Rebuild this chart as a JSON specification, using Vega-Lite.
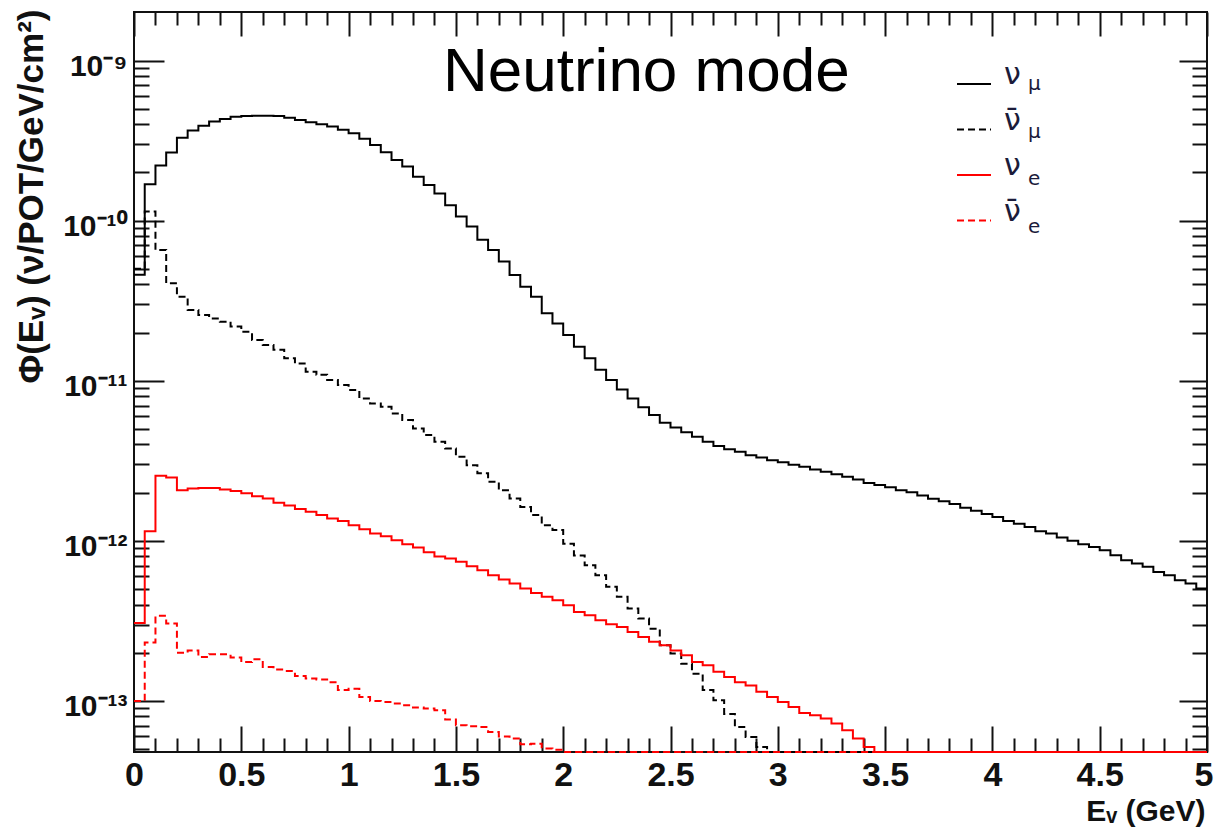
{
  "$schema": "https://vega.github.io/schema/vega-lite/v6.json",
  "autosize": {"type": "none"},
  "padding": {"left": 134, "top": 12, "right": 7, "bottom": 76},
  "width": 1073,
  "height": 740,
  "background": "white",
  "config": {
    "view": {"stroke": "#111", "strokeWidth": 2},
    "axis": {"domain": false, "grid": false, "tickColor": "#111", "tickWidth": 2, "labelOverlap": false, "labelBound": false, "labelFlush": false, "zindex": 1}
  },
  "title": {"text": "Neutrino mode", "anchor": "start", "frame": "group", "orient": "top", "offset": 0, "dx": 309, "dy": 144, "baseline": "alphabetic", "font": "Liberation Sans", "fontSize": 62, "fontWeight": "normal", "color": "#000"},
  "data": {"values": [
    {"series":"numu","E":0,"flux":4.6e-11},{"series":"numu","E":0.05,"flux":1.69e-10},{"series":"numu","E":0.1,"flux":2.21e-10},{"series":"numu","E":0.15,"flux":2.66e-10},{"series":"numu","E":0.2,"flux":3.3e-10},{"series":"numu","E":0.25,"flux":3.65e-10},{"series":"numu","E":0.3,"flux":3.91e-10},{"series":"numu","E":0.35,"flux":4.16e-10},{"series":"numu","E":0.4,"flux":4.31e-10},{"series":"numu","E":0.45,"flux":4.45e-10},
    {"series":"numu","E":0.5,"flux":4.5e-10},{"series":"numu","E":0.55,"flux":4.52e-10},{"series":"numu","E":0.6,"flux":4.52e-10},{"series":"numu","E":0.65,"flux":4.5e-10},{"series":"numu","E":0.7,"flux":4.4e-10},{"series":"numu","E":0.75,"flux":4.26e-10},{"series":"numu","E":0.8,"flux":4.12e-10},{"series":"numu","E":0.85,"flux":4.0e-10},{"series":"numu","E":0.9,"flux":3.87e-10},{"series":"numu","E":0.95,"flux":3.69e-10},
    {"series":"numu","E":1.0,"flux":3.51e-10},{"series":"numu","E":1.05,"flux":3.25e-10},{"series":"numu","E":1.1,"flux":2.97e-10},{"series":"numu","E":1.15,"flux":2.67e-10},{"series":"numu","E":1.2,"flux":2.39e-10},{"series":"numu","E":1.25,"flux":2.18e-10},{"series":"numu","E":1.3,"flux":1.88e-10},{"series":"numu","E":1.35,"flux":1.67e-10},{"series":"numu","E":1.4,"flux":1.48e-10},{"series":"numu","E":1.45,"flux":1.25e-10},
    {"series":"numu","E":1.5,"flux":1.06e-10},{"series":"numu","E":1.55,"flux":9.2e-11},{"series":"numu","E":1.6,"flux":7.6e-11},{"series":"numu","E":1.65,"flux":6.56e-11},{"series":"numu","E":1.7,"flux":5.55e-11},{"series":"numu","E":1.75,"flux":4.58e-11},{"series":"numu","E":1.8,"flux":3.87e-11},{"series":"numu","E":1.85,"flux":3.35e-11},{"series":"numu","E":1.9,"flux":2.64e-11},{"series":"numu","E":1.95,"flux":2.28e-11},
    {"series":"numu","E":2.0,"flux":1.93e-11},{"series":"numu","E":2.05,"flux":1.63e-11},{"series":"numu","E":2.1,"flux":1.38e-11},{"series":"numu","E":2.15,"flux":1.17e-11},{"series":"numu","E":2.2,"flux":1.01e-11},{"series":"numu","E":2.25,"flux":8.83e-12},{"series":"numu","E":2.3,"flux":7.76e-12},{"series":"numu","E":2.35,"flux":6.82e-12},{"series":"numu","E":2.4,"flux":6.1e-12},{"series":"numu","E":2.45,"flux":5.46e-12},
    {"series":"numu","E":2.5,"flux":5.11e-12},{"series":"numu","E":2.55,"flux":4.76e-12},{"series":"numu","E":2.6,"flux":4.47e-12},{"series":"numu","E":2.65,"flux":4.16e-12},{"series":"numu","E":2.7,"flux":3.91e-12},{"series":"numu","E":2.75,"flux":3.74e-12},{"series":"numu","E":2.8,"flux":3.6e-12},{"series":"numu","E":2.85,"flux":3.43e-12},{"series":"numu","E":2.9,"flux":3.32e-12},{"series":"numu","E":2.95,"flux":3.19e-12},
    {"series":"numu","E":3.0,"flux":3.1e-12},{"series":"numu","E":3.05,"flux":2.99e-12},{"series":"numu","E":3.1,"flux":2.9e-12},{"series":"numu","E":3.15,"flux":2.79e-12},{"series":"numu","E":3.2,"flux":2.7e-12},{"series":"numu","E":3.25,"flux":2.61e-12},{"series":"numu","E":3.3,"flux":2.51e-12},{"series":"numu","E":3.35,"flux":2.42e-12},{"series":"numu","E":3.4,"flux":2.3e-12},{"series":"numu","E":3.45,"flux":2.23e-12},
    {"series":"numu","E":3.5,"flux":2.16e-12},{"series":"numu","E":3.55,"flux":2.07e-12},{"series":"numu","E":3.6,"flux":2.01e-12},{"series":"numu","E":3.65,"flux":1.92e-12},{"series":"numu","E":3.7,"flux":1.83e-12},{"series":"numu","E":3.75,"flux":1.77e-12},{"series":"numu","E":3.8,"flux":1.7e-12},{"series":"numu","E":3.85,"flux":1.61e-12},{"series":"numu","E":3.9,"flux":1.54e-12},{"series":"numu","E":3.95,"flux":1.47e-12},
    {"series":"numu","E":4.0,"flux":1.41e-12},{"series":"numu","E":4.05,"flux":1.33e-12},{"series":"numu","E":4.1,"flux":1.28e-12},{"series":"numu","E":4.15,"flux":1.22e-12},{"series":"numu","E":4.2,"flux":1.15e-12},{"series":"numu","E":4.25,"flux":1.11e-12},{"series":"numu","E":4.3,"flux":1.05e-12},{"series":"numu","E":4.35,"flux":1.0e-12},{"series":"numu","E":4.4,"flux":9.53e-13},{"series":"numu","E":4.45,"flux":9.17e-13},
    {"series":"numu","E":4.5,"flux":8.75e-13},{"series":"numu","E":4.55,"flux":8.14e-13},{"series":"numu","E":4.6,"flux":7.57e-13},{"series":"numu","E":4.65,"flux":7.22e-13},{"series":"numu","E":4.7,"flux":6.88e-13},{"series":"numu","E":4.75,"flux":6.4e-13},{"series":"numu","E":4.8,"flux":6.1e-13},{"series":"numu","E":4.85,"flux":5.68e-13},{"series":"numu","E":4.9,"flux":5.42e-13},{"series":"numu","E":4.95,"flux":5.04e-13},{"series":"numu","E":5.0,"flux":5.04e-13},

    {"series":"anumu","E":0,"flux":5.0e-11},{"series":"anumu","E":0.05,"flux":1.14e-10},{"series":"anumu","E":0.1,"flux":6.56e-11},{"series":"anumu","E":0.15,"flux":4.06e-11},{"series":"anumu","E":0.2,"flux":3.35e-11},{"series":"anumu","E":0.25,"flux":2.77e-11},{"series":"anumu","E":0.3,"flux":2.57e-11},{"series":"anumu","E":0.35,"flux":2.45e-11},{"series":"anumu","E":0.4,"flux":2.34e-11},{"series":"anumu","E":0.45,"flux":2.18e-11},
    {"series":"anumu","E":0.5,"flux":2.02e-11},{"series":"anumu","E":0.55,"flux":1.8e-11},{"series":"anumu","E":0.6,"flux":1.67e-11},{"series":"anumu","E":0.65,"flux":1.56e-11},{"series":"anumu","E":0.7,"flux":1.38e-11},{"series":"anumu","E":0.75,"flux":1.28e-11},{"series":"anumu","E":0.8,"flux":1.14e-11},{"series":"anumu","E":0.85,"flux":1.09e-11},{"series":"anumu","E":0.9,"flux":1.01e-11},{"series":"anumu","E":0.95,"flux":9.4e-12},
    {"series":"anumu","E":1.0,"flux":8.75e-12},{"series":"anumu","E":1.05,"flux":7.76e-12},{"series":"anumu","E":1.1,"flux":7.22e-12},{"series":"anumu","E":1.15,"flux":6.88e-12},{"series":"anumu","E":1.2,"flux":6.25e-12},{"series":"anumu","E":1.25,"flux":5.68e-12},{"series":"anumu","E":1.3,"flux":5.04e-12},{"series":"anumu","E":1.35,"flux":4.58e-12},{"series":"anumu","E":1.4,"flux":4.16e-12},{"series":"anumu","E":1.45,"flux":3.78e-12},
    {"series":"anumu","E":1.5,"flux":3.35e-12},{"series":"anumu","E":1.55,"flux":2.97e-12},{"series":"anumu","E":1.6,"flux":2.64e-12},{"series":"anumu","E":1.65,"flux":2.34e-12},{"series":"anumu","E":1.7,"flux":2.07e-12},{"series":"anumu","E":1.75,"flux":1.84e-12},{"series":"anumu","E":1.8,"flux":1.63e-12},{"series":"anumu","E":1.85,"flux":1.45e-12},{"series":"anumu","E":1.9,"flux":1.25e-12},{"series":"anumu","E":1.95,"flux":1.17e-12},
    {"series":"anumu","E":2.0,"flux":9.6e-13},{"series":"anumu","E":2.05,"flux":8.1e-13},{"series":"anumu","E":2.1,"flux":7.05e-13},{"series":"anumu","E":2.15,"flux":6.1e-13},{"series":"anumu","E":2.2,"flux":5.16e-13},{"series":"anumu","E":2.25,"flux":4.47e-13},{"series":"anumu","E":2.3,"flux":3.78e-13},{"series":"anumu","E":2.35,"flux":3.27e-13},{"series":"anumu","E":2.4,"flux":2.83e-13},{"series":"anumu","E":2.45,"flux":2.23e-13},
    {"series":"anumu","E":2.5,"flux":1.98e-13},{"series":"anumu","E":2.55,"flux":1.71e-13},{"series":"anumu","E":2.6,"flux":1.48e-13},{"series":"anumu","E":2.65,"flux":1.17e-13},{"series":"anumu","E":2.7,"flux":1.01e-13},{"series":"anumu","E":2.75,"flux":8.3e-14},{"series":"anumu","E":2.8,"flux":6.88e-14},{"series":"anumu","E":2.85,"flux":5.96e-14},{"series":"anumu","E":2.9,"flux":5.16e-14},{"series":"anumu","E":2.95,"flux":1e-15},
    {"series":"anumu","E":3.0,"flux":1e-15},{"series":"anumu","E":3.5,"flux":1e-15},{"series":"anumu","E":4.0,"flux":1e-15},{"series":"anumu","E":4.5,"flux":1e-15},{"series":"anumu","E":5.0,"flux":1e-15},

    {"series":"nue","E":0,"flux":3.07e-13},{"series":"nue","E":0.05,"flux":1.15e-12},{"series":"nue","E":0.1,"flux":2.55e-12},{"series":"nue","E":0.15,"flux":2.49e-12},{"series":"nue","E":0.2,"flux":2.07e-12},{"series":"nue","E":0.25,"flux":2.12e-12},{"series":"nue","E":0.3,"flux":2.14e-12},{"series":"nue","E":0.35,"flux":2.14e-12},{"series":"nue","E":0.4,"flux":2.09e-12},{"series":"nue","E":0.45,"flux":2.05e-12},
    {"series":"nue","E":0.5,"flux":1.98e-12},{"series":"nue","E":0.55,"flux":1.9e-12},{"series":"nue","E":0.6,"flux":1.84e-12},{"series":"nue","E":0.65,"flux":1.73e-12},{"series":"nue","E":0.7,"flux":1.66e-12},{"series":"nue","E":0.75,"flux":1.58e-12},{"series":"nue","E":0.8,"flux":1.52e-12},{"series":"nue","E":0.85,"flux":1.45e-12},{"series":"nue","E":0.9,"flux":1.38e-12},{"series":"nue","E":0.95,"flux":1.33e-12},
    {"series":"nue","E":1.0,"flux":1.25e-12},{"series":"nue","E":1.05,"flux":1.18e-12},{"series":"nue","E":1.1,"flux":1.11e-12},{"series":"nue","E":1.15,"flux":1.07e-12},{"series":"nue","E":1.2,"flux":1.01e-12},{"series":"nue","E":1.25,"flux":9.53e-13},{"series":"nue","E":1.3,"flux":9.1e-13},{"series":"nue","E":1.35,"flux":8.5e-13},{"series":"nue","E":1.4,"flux":8.0e-13},{"series":"nue","E":1.45,"flux":7.76e-13},
    {"series":"nue","E":1.5,"flux":7.4e-13},{"series":"nue","E":1.55,"flux":6.95e-13},{"series":"nue","E":1.6,"flux":6.56e-13},{"series":"nue","E":1.65,"flux":6.1e-13},{"series":"nue","E":1.7,"flux":5.74e-13},{"series":"nue","E":1.75,"flux":5.42e-13},{"series":"nue","E":1.8,"flux":5.04e-13},{"series":"nue","E":1.85,"flux":4.73e-13},{"series":"nue","E":1.9,"flux":4.47e-13},{"series":"nue","E":1.95,"flux":4.26e-13},
    {"series":"nue","E":2.0,"flux":3.96e-13},{"series":"nue","E":2.05,"flux":3.6e-13},{"series":"nue","E":2.1,"flux":3.43e-13},{"series":"nue","E":2.15,"flux":3.19e-13},{"series":"nue","E":2.2,"flux":3.01e-13},{"series":"nue","E":2.25,"flux":2.9e-13},{"series":"nue","E":2.3,"flux":2.7e-13},{"series":"nue","E":2.35,"flux":2.51e-13},{"series":"nue","E":2.4,"flux":2.34e-13},{"series":"nue","E":2.45,"flux":2.23e-13},
    {"series":"nue","E":2.5,"flux":2.07e-13},{"series":"nue","E":2.55,"flux":1.93e-13},{"series":"nue","E":2.6,"flux":1.75e-13},{"series":"nue","E":2.65,"flux":1.67e-13},{"series":"nue","E":2.7,"flux":1.52e-13},{"series":"nue","E":2.75,"flux":1.41e-13},{"series":"nue","E":2.8,"flux":1.31e-13},{"series":"nue","E":2.85,"flux":1.25e-13},{"series":"nue","E":2.9,"flux":1.14e-13},{"series":"nue","E":2.95,"flux":1.06e-13},
    {"series":"nue","E":3.0,"flux":9.86e-14},{"series":"nue","E":3.05,"flux":9.17e-14},{"series":"nue","E":3.1,"flux":8.4e-14},{"series":"nue","E":3.15,"flux":8.14e-14},{"series":"nue","E":3.2,"flux":7.76e-14},{"series":"nue","E":3.25,"flux":7.22e-14},{"series":"nue","E":3.3,"flux":6.56e-14},{"series":"nue","E":3.35,"flux":5.82e-14},{"series":"nue","E":3.4,"flux":5.16e-14},{"series":"nue","E":3.45,"flux":1e-15},
    {"series":"nue","E":3.5,"flux":1e-15},{"series":"nue","E":4.0,"flux":1e-15},{"series":"nue","E":4.5,"flux":1e-15},{"series":"nue","E":5.0,"flux":1e-15},

    {"series":"anue","E":0,"flux":1.0e-13},{"series":"anue","E":0.05,"flux":2.32e-13},{"series":"anue","E":0.1,"flux":3.4e-13},{"series":"anue","E":0.15,"flux":3.05e-13},{"series":"anue","E":0.2,"flux":2.0e-13},{"series":"anue","E":0.25,"flux":2.07e-13},{"series":"anue","E":0.3,"flux":1.88e-13},{"series":"anue","E":0.35,"flux":1.96e-13},{"series":"anue","E":0.4,"flux":1.96e-13},{"series":"anue","E":0.45,"flux":1.87e-13},
    {"series":"anue","E":0.5,"flux":1.75e-13},{"series":"anue","E":0.55,"flux":1.82e-13},{"series":"anue","E":0.6,"flux":1.63e-13},{"series":"anue","E":0.65,"flux":1.57e-13},{"series":"anue","E":0.7,"flux":1.54e-13},{"series":"anue","E":0.75,"flux":1.43e-13},{"series":"anue","E":0.8,"flux":1.38e-13},{"series":"anue","E":0.85,"flux":1.36e-13},{"series":"anue","E":0.9,"flux":1.31e-13},{"series":"anue","E":0.95,"flux":1.17e-13},
    {"series":"anue","E":1.0,"flux":1.19e-13},{"series":"anue","E":1.05,"flux":1.06e-13},{"series":"anue","E":1.1,"flux":1.0e-13},{"series":"anue","E":1.15,"flux":9.86e-14},{"series":"anue","E":1.2,"flux":9.63e-14},{"series":"anue","E":1.25,"flux":9.4e-14},{"series":"anue","E":1.3,"flux":9.1e-14},{"series":"anue","E":1.35,"flux":8.96e-14},{"series":"anue","E":1.4,"flux":8.75e-14},{"series":"anue","E":1.45,"flux":7.66e-14},
    {"series":"anue","E":1.5,"flux":7.05e-14},{"series":"anue","E":1.55,"flux":6.95e-14},{"series":"anue","E":1.6,"flux":6.88e-14},{"series":"anue","E":1.65,"flux":6.4e-14},{"series":"anue","E":1.7,"flux":6.0e-14},{"series":"anue","E":1.75,"flux":5.82e-14},{"series":"anue","E":1.8,"flux":5.36e-14},{"series":"anue","E":1.85,"flux":5.41e-14},{"series":"anue","E":1.9,"flux":5.04e-14},{"series":"anue","E":1.95,"flux":4.96e-14},
    {"series":"anue","E":2.0,"flux":1e-15},{"series":"anue","E":2.5,"flux":1e-15},{"series":"anue","E":3.0,"flux":1e-15},{"series":"anue","E":3.5,"flux":1e-15},{"series":"anue","E":4.0,"flux":1e-15},{"series":"anue","E":4.5,"flux":1e-15},{"series":"anue","E":5.0,"flux":1e-15}
  ]},
  "resolve": {"axis": {"x": "independent", "y": "independent"}, "scale": {"color": "independent"}},
  "layer": [
    {
      "mark": {"type": "line", "interpolate": "step-after", "strokeWidth": 2},
      "encoding": {
        "x": {"field": "E", "type": "quantitative", "scale": {"domain": [0, 5], "nice": false, "zero": false},
          "axis": {"orient": "bottom", "values": [0,0.1,0.2,0.3,0.4,0.5,0.6,0.7,0.8,0.9,1,1.1,1.2,1.3,1.4,1.5,1.6,1.7,1.8,1.9,2,2.1,2.2,2.3,2.4,2.5,2.6,2.7,2.8,2.9,3,3.1,3.2,3.3,3.4,3.5,3.6,3.7,3.8,3.9,4,4.1,4.2,4.3,4.4,4.5,4.6,4.7,4.8,4.9,5],
            "format": "~g",
            "labelExpr": "abs(datum.value*2 - round(datum.value*2)) < 0.001 ? datum.label : ''",
            "tickSize": {"condition": {"test": "abs(datum.value*2 - round(datum.value*2)) < 0.001", "value": -26}, "value": -14},
            "labelAlign": {"condition": {"test": "datum.value == 5", "value": "right"}, "value": "center"},
            "labelOffset": {"condition": {"test": "datum.value == 5", "value": 6}, "value": 0},
            "labelPadding": 32, "labelFont": "Liberation Sans", "labelFontWeight": "bold", "labelFontSize": 34, "labelColor": "#111",
            "title": "Eᵥ (GeV)", "titleFont": "Liberation Sans", "titleFontWeight": "bold", "titleFontSize": 30, "titleColor": "#111",
            "titleAlign": "right", "titleBaseline": "alphabetic", "titleX": 1071, "titleY": 68}},
        "y": {"field": "flux", "type": "quantitative", "scale": {"type": "log", "domain": [4.8e-14, 2.01e-9], "nice": false, "clamp": true},
          "axis": {"orient": "left", "values": [5e-14,6e-14,7e-14,8e-14,9e-14,1e-13,2e-13,3e-13,4e-13,5e-13,6e-13,7e-13,8e-13,9e-13,1e-12,2e-12,3e-12,4e-12,5e-12,6e-12,7e-12,8e-12,9e-12,1e-11,2e-11,3e-11,4e-11,5e-11,6e-11,7e-11,8e-11,9e-11,1e-10,2e-10,3e-10,4e-10,5e-10,6e-10,7e-10,8e-10,9e-10,1e-9],
            "labelExpr": "abs(log(datum.value)/LN10 - round(log(datum.value)/LN10)) < 0.001 ? '10' + (round(log(datum.value)/LN10) == -9 ? '⁻⁹' : round(log(datum.value)/LN10) == -10 ? '⁻¹⁰' : round(log(datum.value)/LN10) == -11 ? '⁻¹¹' : round(log(datum.value)/LN10) == -12 ? '⁻¹²' : '⁻¹³') : ''",
            "tickSize": {"condition": {"test": "abs(log(datum.value)/LN10 - round(log(datum.value)/LN10)) < 0.001", "value": -30}, "value": -15},
            "labelPadding": 37, "labelOffset": 6, "labelFont": "Liberation Sans", "labelFontWeight": "bold", "labelFontSize": 30, "labelColor": "#111",
            "title": "Φ(Eᵥ) (ν/POT/GeV/cm²)", "titleFont": "Liberation Sans", "titleFontWeight": "bold", "titleFontSize": 35, "titleColor": "#111",
            "titleAngle": 270, "titleAlign": "right", "titleBaseline": "middle", "titleX": -103, "titleY": -3}},
        "color": {"field": "series", "type": "nominal", "scale": {"domain": ["numu", "anumu", "nue", "anue"], "range": ["#000000", "#000000", "#ff0000", "#ff0000"]},
          "legend": {"orient": "none", "legendX": 822, "legendY": 54, "title": null, "padding": 0, "symbolType": "stroke", "symbolSize": 1156, "symbolStrokeWidth": 2,
            "labelFont": "DejaVu Sans", "labelFontSize": 30, "labelColor": "#1b1b3a", "labelOffset": 12, "labelBaseline": "alphabetic", "rowPadding": 15.5,
            "labelExpr": "datum.value == 'anumu' || datum.value == 'anue' ? 'ν̄' : 'ν'",
            "encode": {"symbols": {"update": {"strokeDash": {"signal": "datum.value == 'anumu' || datum.value == 'anue' ? [7, 4] : [1, 0]"}}}}}},
        "strokeDash": {"field": "series", "type": "nominal", "legend": null, "scale": {"domain": ["numu", "anumu", "nue", "anue"], "range": [[1, 0], [7, 4], [1, 0], [7, 4]]}}
      }
    },
    {
      "mark": {"type": "line", "interpolate": "step-after", "strokeWidth": 2, "opacity": 0},
      "encoding": {
        "x": {"field": "E", "type": "quantitative", "scale": {"domain": [0, 5], "nice": false, "zero": false},
          "axis": {"orient": "top", "values": [0,0.1,0.2,0.3,0.4,0.5,0.6,0.7,0.8,0.9,1,1.1,1.2,1.3,1.4,1.5,1.6,1.7,1.8,1.9,2,2.1,2.2,2.3,2.4,2.5,2.6,2.7,2.8,2.9,3,3.1,3.2,3.3,3.4,3.5,3.6,3.7,3.8,3.9,4,4.1,4.2,4.3,4.4,4.5,4.6,4.7,4.8,4.9,5],
            "labels": false, "title": null,
            "tickSize": {"condition": {"test": "abs(datum.value*2 - round(datum.value*2)) < 0.001", "value": -24}, "value": -13}}},
        "y": {"field": "flux", "type": "quantitative", "scale": {"type": "log", "domain": [4.8e-14, 2.01e-9], "nice": false, "clamp": true},
          "axis": {"orient": "right", "values": [5e-14,6e-14,7e-14,8e-14,9e-14,1e-13,2e-13,3e-13,4e-13,5e-13,6e-13,7e-13,8e-13,9e-13,1e-12,2e-12,3e-12,4e-12,5e-12,6e-12,7e-12,8e-12,9e-12,1e-11,2e-11,3e-11,4e-11,5e-11,6e-11,7e-11,8e-11,9e-11,1e-10,2e-10,3e-10,4e-10,5e-10,6e-10,7e-10,8e-10,9e-10,1e-9],
            "labels": false, "title": null,
            "tickSize": {"condition": {"test": "abs(log(datum.value)/LN10 - round(log(datum.value)/LN10)) < 0.001", "value": -28}, "value": -15}}},
        "color": {"field": "series", "type": "nominal", "scale": {"domain": ["numu", "anumu", "nue", "anue"], "range": ["#000000", "#000000", "#ff0000", "#ff0000"]},
          "legend": {"orient": "none", "legendX": 846, "legendY": 60, "title": null, "padding": 0, "symbolType": "stroke", "symbolSize": 1156, "symbolStrokeWidth": 2, "symbolOpacity": 0,
            "labelFont": "DejaVu Sans", "labelFontSize": 20, "labelColor": "#1b1b3a", "labelOffset": 12, "labelBaseline": "alphabetic", "rowPadding": 25.5,
            "labelExpr": "datum.value == 'numu' || datum.value == 'anumu' ? 'μ' : 'e'"}}
      }
    }
  ]
}
